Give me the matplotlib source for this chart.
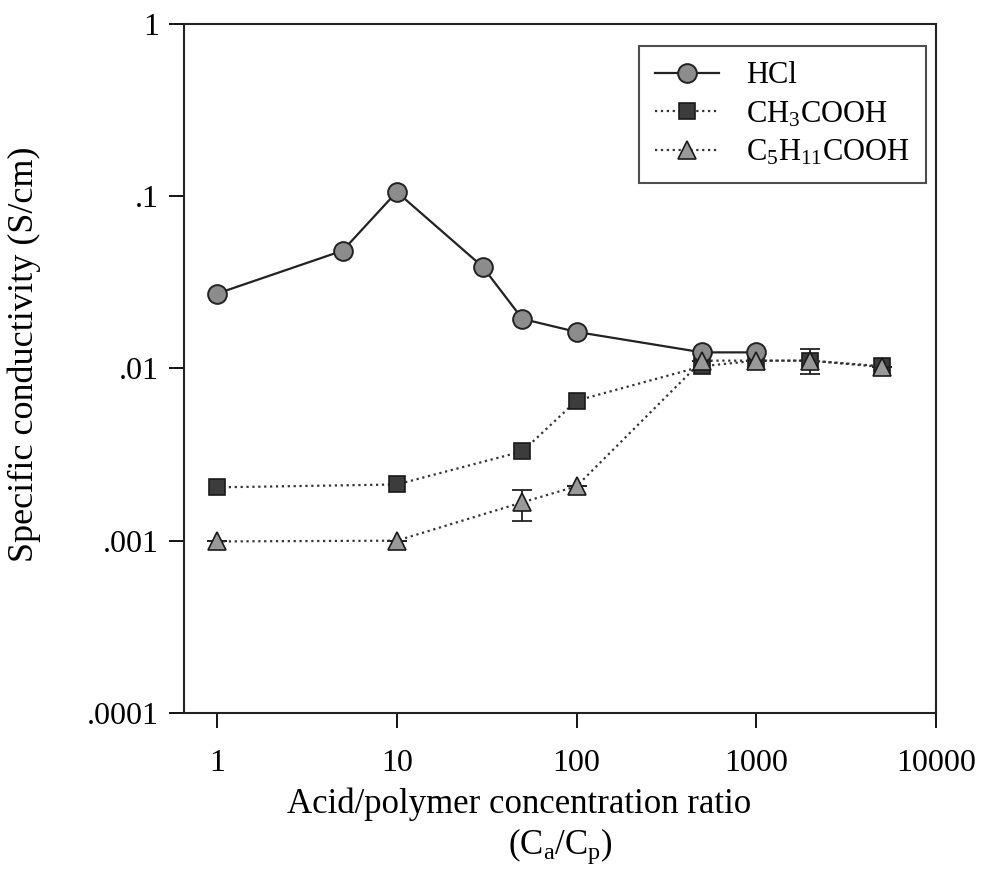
import matplotlib
matplotlib.use('Agg')
import matplotlib.pyplot as plt
import matplotlib.ticker as ticker

plt.rcParams['font.family'] = ['Liberation Serif', 'DejaVu Serif']
plt.rcParams['mathtext.fontset'] = 'custom'
plt.rcParams['mathtext.rm'] = 'Liberation Serif'
plt.rcParams['mathtext.it'] = 'Liberation Serif'
plt.rcParams['mathtext.default'] = 'rm'

# values
hcl_x = [1, 5, 10, 30, 50, 100, 500, 1000]
hcl_y = [0.0272, 0.0483, 0.106, 0.039, 0.0194, 0.0163, 0.0124, 0.0124]

ac_x = [1, 10, 50, 100, 500, 1000, 2000, 5000]
ac_y = [0.00204, 0.00212, 0.0033, 0.0065, 0.0103, 0.0111, 0.0111, 0.0103]

hex_x = [1, 10, 50, 100, 500, 1000, 2000, 5000]
hex_y = [0.00099, 0.00100, 0.00167, 0.00207, 0.0111, 0.0111, 0.0111, 0.0102]
hex_lo = [0, 0, 0.00037, 0, 0, 0, 0.0018, 0]
hex_hi = [0, 0, 0.00029, 0, 0, 0, 0.0019, 0]

yticks = [1, 0.1, 0.01, 0.001, 0.0001]
ytick_labels = ['1', '.1', '.01', '.001', '.0001']
xticks = [1, 10, 100, 1000, 10000]
xtick_labels = ['1', '10', '100', '1000', '10000']

fig = plt.figure(figsize=(9.85, 8.9), dpi=100)
ax = fig.add_axes([0.1868, 0.199, 0.7635, 0.774])

ax.plot(hcl_x, hcl_y, '-', color='#222222', linewidth=1.6, marker='o', markersize=13.5,
        markerfacecolor='#8c8c8c', markeredgecolor='#222222', markeredgewidth=1.4,
        label='HCl', zorder=4)
ax.plot(ac_x, ac_y, ':', color='#333333', linewidth=1.6, marker='s', markersize=12,
        markerfacecolor='#3c3c3c', markeredgecolor='#1a1a1a', markeredgewidth=1.2,
        label='CH$_3$COOH', zorder=3)
ax.errorbar(hex_x, hex_y, yerr=[hex_lo, hex_hi], fmt='none', ecolor='#222222',
            elinewidth=1.3, capsize=7, capthick=1.3, zorder=5)
ax.plot(hex_x, hex_y, ':', color='#333333', linewidth=1.6, marker='^', markersize=13.5,
        markerfacecolor='#999999', markeredgecolor='#1a1a1a', markeredgewidth=1.2,
        label='C$_5$H$_{11}$COOH', zorder=5)

ax.set_xscale('log')
ax.set_yscale('log')
ax.set_xlim(0.655, 10000)
ax.set_ylim(0.0001, 1)

ax.xaxis.set_major_locator(ticker.FixedLocator(xticks))
ax.xaxis.set_major_formatter(ticker.FixedFormatter(xtick_labels))
ax.yaxis.set_major_locator(ticker.FixedLocator(yticks))
ax.yaxis.set_major_formatter(ticker.FixedFormatter(ytick_labels))
ax.xaxis.set_minor_locator(ticker.NullLocator())
ax.yaxis.set_minor_locator(ticker.NullLocator())

ax.tick_params(axis='x', direction='out', length=11, width=1.3, pad=15, labelsize=23)
ax.tick_params(axis='y', direction='out', length=11, width=1.3, pad=7, labelsize=23)
for s in ax.spines.values():
    s.set_linewidth(1.5)
    s.set_color('#222222')

ax.set_ylabel('Specific conductivity (S/cm)', fontsize=26)
ax.yaxis.set_label_coords(-0.19, 0.52)

# two label lines are not centred on each other in the original
ax.set_xlabel('Acid/polymer concentration ratio', fontsize=25)
ax.xaxis.set_label_coords(0.445, -0.108)
ax.text(0.5, -0.165, '(C$_a$/C$_p$)', transform=ax.transAxes, fontsize=25,
        ha='center', va='top')

leg = ax.legend(loc='upper right', bbox_to_anchor=(0.986, 0.968), borderaxespad=0,
                fontsize=22, frameon=True, fancybox=False, edgecolor='#222222',
                handlelength=2.1, borderpad=0.5, labelspacing=0.3, handletextpad=0.9,
                numpoints=1)
leg.get_frame().set_linewidth(1.5)

fig.savefig('out.png', dpi=100)
